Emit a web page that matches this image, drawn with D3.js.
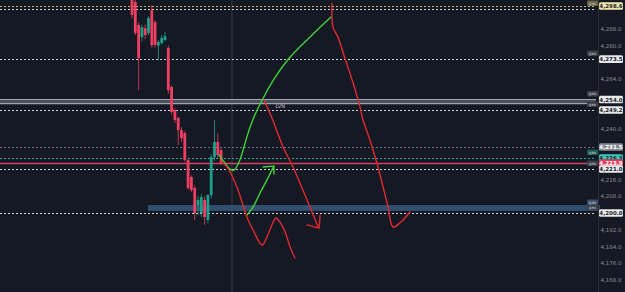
<!DOCTYPE html>
<meta charset="utf-8">
<style>
  body { margin: 0; padding: 0; background: #151924; }
  svg text { font-family: "DejaVu Sans", sans-serif; }
</style>
<body>
<script src="https://d3js.org/d3.v7.min.js"></script>
<script>

// candles: [open, high, low, close]
var candles = [
  [4306, 4310, 4293, 4294.6], [4300.8, 4302, 4285, 4286.0], [4289.8, 4291, 4258.7, 4274.0],
  [4284, 4290, 4282, 4288.8], [4288.3, 4290, 4283, 4285.0], [4286, 4294, 4285, 4293.1],
  [4296.9, 4299.3, 4279, 4280.2], [4291.2, 4292, 4279, 4280.2], [4280, 4282.5, 4273, 4281.7],
  [4281.2, 4285, 4280.5, 4283.6], [4282.6, 4286.5, 4282, 4284.5], [4278.8, 4280, 4257, 4258.7],
  [4260.2, 4261, 4247, 4248.2], [4249.2, 4250, 4243, 4244.4], [4245.4, 4246, 4232.5, 4239.6],
  [4239.6, 4241, 4234, 4235.8], [4238.2, 4239, 4224.5, 4225.3], [4225.3, 4226, 4211, 4211.9],
  [4217.2, 4218, 4210, 4211.0], [4211.9, 4213, 4196.7, 4200.0], [4203.8, 4208, 4199, 4206.2],
  [4200, 4209, 4198, 4207.6], [4206.2, 4208, 4194.3, 4198.1], [4196.7, 4209, 4195, 4208.6],
  [4208.6, 4228, 4207, 4226.7], [4226.7, 4244.4, 4225, 4233.9], [4233.9, 4238, 4226.5, 4227.7],
  [4230.1, 4231, 4223, 4223.9]
];

var tickValues = d3.range(4168, 4297, 8);

// horizontal levels: price, colour, dash, box label, box colour, tag
var levelPrices = [4298.9, 4297.5, 4273.5, 4249.2, 4231.5, 4226.3, 4223.9, 4221.0, 4200.0];
var levelColors = ["#c9b664", "#d1d4dc", "#d1d4dc", "#d1d4dc", "#6b6f7a", "#26a69a", "#d0455f", "#d1d4dc", "#d1d4dc"];
var levelDash   = ["2,2", "2,2", "2,2", "2,2", "2,2", "2,2", null, "2,2", "2,2"];
var boxLabels   = ["4,298.6", null, "4,273.5", "4,249.2", "4,231.5", "4,226.3", "4,223.9", "4,221.0", "4,200.0"];
var boxColors   = ["#f0e6b0", null, "#e8e9ec", "#e8e9ec", "#8a8d96", "#3cc7bd", "#e2405c", "#e8e9ec", "#e8e9ec"];
var tagLabels   = ["gex", null, "gex", "gex", null, "gex", null, "gex", "gex"];

// grey band
var greyBand = [4252.2, 4254.2];
var greyBandLabels = ["4,254.0", "gex"];
// blue zone: [startBar, low, high]
var blueZone = [4.8, 4201.0, 4203.8];
var crossBar = 30.3;

// hand drawings: [bar, price]
var greenArc = [[26.4,4227.7],[28.5,4222.9],[30.6,4219.1],[32.1,4222.9],[33.3,4227.7],[34.5,4234.9],
  [36.4,4244.4],[39.4,4254.0],[42.7,4263.5],[47.3,4274.0],[53.0,4282.6],[57.0,4288.8],[60.3,4293.6]];
var greenSmall = [[34.8,4199.0],[36.7,4202.9],[38.8,4209.6],[40.9,4215.8],[42.4,4220.5],[43.0,4222.4]];
var greenHook = [[39.7,4222.0],[43.0,4222.4],[43.0,4218.6]];
var red1 = [[27.0,4224.4],[28.8,4222.0],[31.8,4212.4],[34.8,4198.1],[36.7,4191.9],[39.4,4184.7],
  [40.9,4188.5],[42.4,4194.3],[43.6,4197.6],[44.8,4195.7],[46.4,4190.9],[47.9,4183.8],[49.4,4178.5]];
var red2 = [[40.0,4254.0],[42.4,4245.4],[45.8,4231.5],[48.5,4222.9],[50.9,4214.3],[53.9,4202.9],[56.4,4193.3]];
var red2Head = [[53.0,4194.3],[56.7,4192.8],[57.0,4199.0]];
var red3 = [[60.6,4300.0],[60.9,4288.8],[62.4,4284.0],[64.5,4274.0],[67.0,4262.1],[69.1,4250.6],
  [70.0,4244.4],[72.1,4234.9],[74.2,4223.9],[76.1,4212.4],[77.6,4202.9],[79.1,4193.3],[81.5,4195.7],[84.2,4200.5]];
var noteLabel = [43.5, 4249.2, "LVN"];

var width = 625, height = 292, plotRight = 596;

var svg = d3.select("body").append("svg")
  .attr("width", width).attr("height", height);

svg.append("rect").attr("width", width).attr("height", height).attr("fill", "#151924");

var x = d3.scaleLinear().domain([-40, 140]).range([0, 594]);
var y = d3.scaleLinear().domain([4168, 4296]).range([280, 12]);

var plot = svg.append("g");

// crosshair
plot.append("line")
  .attr("x1", x(crossBar)).attr("x2", x(crossBar))
  .attr("y1", 0).attr("y2", height)
  .attr("stroke", "#3a3e4a").attr("stroke-width", 1);

// blue zone
plot.append("rect")
  .attr("x", x(blueZone[0])).attr("width", plotRight + 4 - x(blueZone[0]))
  .attr("y", y(blueZone[2])).attr("height", y(blueZone[1]) - y(blueZone[2]))
  .attr("fill", "#31506f");

// grey band
plot.append("rect")
  .attr("x", 0).attr("width", plotRight)
  .attr("y", y(greyBand[1])).attr("height", y(greyBand[0]) - y(greyBand[1]))
  .attr("fill", "#4a4e58");
greyBand.forEach(function(p) {
  plot.append("line").attr("x1", 0).attr("x2", plotRight)
    .attr("y1", y(p)).attr("y2", y(p))
    .attr("stroke", "#a3a6ae").attr("stroke-width", 1.2);
});

// levels
levelPrices.forEach(function(p, i) {
  plot.append("line").attr("x1", 0).attr("x2", plotRight)
    .attr("y1", Math.round(y(p)) + 0.5).attr("y2", Math.round(y(p)) + 0.5)
    .attr("stroke", levelColors[i])
    .attr("stroke-width", levelDash[i] ? 1 : 1.5)
    .attr("stroke-dasharray", levelDash[i]);
});

// candles
var bw = 2.8;
var cg = plot.append("g");
candles.forEach(function(c, i) {
  var up = c[3] >= c[0];
  var col = up ? "#1f9e89" : "#ee3f62";
  cg.append("line").attr("x1", x(i)).attr("x2", x(i))
    .attr("y1", y(c[1])).attr("y2", y(c[2]))
    .attr("stroke", col).attr("stroke-width", 0.8);
  cg.append("rect").attr("x", x(i) - bw / 2).attr("width", bw)
    .attr("y", y(Math.max(c[0], c[3])))
    .attr("height", Math.max(1, Math.abs(y(c[0]) - y(c[3]))))
    .attr("fill", col);
});

// drawings
var line = d3.line().x(function(d) { return x(d[0]); }).y(function(d) { return y(d[1]); })
  .curve(d3.curveCatmullRom);
var smooth = d3.line().x(function(d) { return x(d[0]); }).y(function(d) { return y(d[1]); })
  .curve(d3.curveBasis);
var straight = d3.line().x(function(d) { return x(d[0]); }).y(function(d) { return y(d[1]); });

[[greenArc, "#3fd13a", smooth], [greenSmall, "#3fd13a", line], [greenHook, "#3fd13a", straight],
 [red1, "#e2292f", line], [red2, "#e2292f", line], [red2Head, "#e2292f", straight], [red3, "#e2292f", line]]
  .forEach(function(d) {
    plot.append("path").attr("d", d[2](d[0]))
      .attr("fill", "none").attr("stroke", d[1]).attr("stroke-width", 1.4)
      .attr("stroke-linejoin", "round").attr("stroke-linecap", "round");
  });

plot.append("text").attr("x", x(noteLabel[0])).attr("y", y(noteLabel[1]) - 1.5)
  .attr("fill", "#c8cad0").attr("font-size", 5).text(noteLabel[2]);

// axis
svg.append("line").attr("x1", 598.5).attr("x2", 598.5).attr("y1", 0).attr("y2", height)
  .attr("stroke", "#2a2e39");

var boxYs = levelPrices.map(function(p, i) { return boxLabels[i] ? y(p) : null; })
  .filter(function(v) { return v !== null; }).concat([y(greyBand[1])]);

var axis = svg.append("g");
tickValues.forEach(function(t) {
  var ty = y(t);
  var hidden = boxYs.some(function(b) { return Math.abs(b - ty) < 7; });
  if (hidden) return;
  axis.append("text").attr("x", 611).attr("y", ty + 2)
    .attr("text-anchor", "middle").attr("font-size", 5.5)
    .attr("fill", "#8c8f98").text(d3.format(",.1f")(t));
});

function box(py, label, fill, textCol) {
  axis.append("rect").attr("x", 599).attr("y", py - 3.8).attr("width", 24).attr("height", 7.6)
    .attr("rx", 1.5).attr("fill", fill);
  axis.append("text").attr("x", 611).attr("y", py + 2)
    .attr("text-anchor", "middle").attr("font-size", 5.5).attr("font-weight", "bold")
    .attr("fill", textCol).text(label);
}
function tag(py, label, fill) {
  py = Math.max(py, 3.5);
  axis.append("rect").attr("x", 587).attr("y", py - 3).attr("width", 11).attr("height", 5.5)
    .attr("rx", 1).attr("fill", fill);
  axis.append("text").attr("x", 592.5).attr("y", py + 1.2)
    .attr("text-anchor", "middle").attr("font-size", 4).attr("fill", "#c8cad0").text(label);
}

levelPrices.forEach(function(p, i) {
  if (tagLabels[i]) tag(y(p) - 5.5, tagLabels[i], i === 0 ? "#6a6240" : (i === 5 ? "#1b5e5a" : "#3a3e48"));
});
tag(y(greyBand[1]) - 5.5, greyBandLabels[1], "#3a3e48");
tag(y(blueZone[2]) - 2.5, "gex", "#3a4f6b");

box(y(greyBand[1]), greyBandLabels[0], "#e8e9ec", "#1a1d26");
levelPrices.forEach(function(p, i) {
  if (!boxLabels[i]) return;
  box(y(p), boxLabels[i], boxColors[i], (i === 6 || i === 4) ? "#ffffff" : "#1a1d26");
});

</script>
